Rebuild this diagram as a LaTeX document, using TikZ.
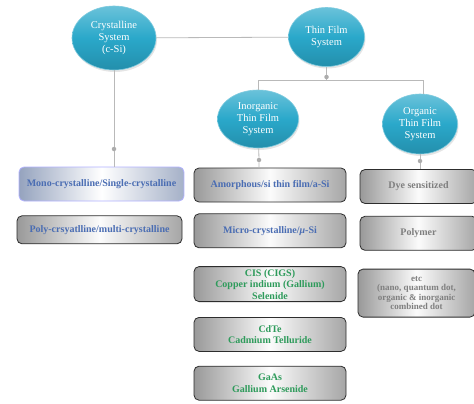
\documentclass[tikz,border=0pt]{standalone}
\usepackage{fontspec}
\setmainfont{Liberation Serif}
\usetikzlibrary{positioning,shapes.geometric,shadows}
\definecolor{bubble}{HTML}{2AA8CA}
\definecolor{sitxt}{HTML}{4A6DB3}
\definecolor{cmptxt}{HTML}{2E9B5B}
\definecolor{orgtxt}{HTML}{7F7F7F}
\definecolor{monoedge}{HTML}{95A3BE}

\begin{document}
\begin{tikzpicture}[x=1pt,y=1pt,node distance=14pt,
  sys/.style={ellipse,draw=bubble!60!white,line width=0.6pt,top color=bubble!70!white,bottom color=bubble!85!black,middle color=bubble,
    text=white,align=center,inner sep=0pt,font=\fontsize{10.5}{12}\selectfont,drop shadow={opacity=0.2,shadow xshift=1pt,shadow yshift=-2pt}},
  box/.style={draw=gray!35!black,line width=0.8pt,rounded corners=5pt,left color=gray!80,right color=gray!70,middle color=gray!3,
    align=center,inner sep=2pt,minimum width=152pt,minimum height=34pt,font=\bfseries\fontsize{10}{11.5}\selectfont},
  sibox/.style={box,text=sitxt},
  cmpbox/.style={box,text=cmptxt},
  orgbox/.style={box,text=orgtxt,minimum width=117pt},
  joint/.style={circle,fill=gray!65,inner sep=0pt,minimum size=4.5pt},
  link/.style={draw=gray!55,line width=0.8pt}]
\fill[white] (0,0) rectangle (474,-404);
\useasboundingbox (0,0) rectangle (474,-404);
\node[sys,minimum width=84pt,minimum height=64pt] (crys) at (114,-38) {Crystalline\\System\\(c-Si)};
\node[sys,minimum width=76pt,minimum height=59pt] (thin) at (326.5,-37) {Thin Film\\System};
\node[sys,minimum width=81pt,minimum height=58pt] (inorg) at (258,-119) {Inorganic\\Thin Film\\System};
\node[sys,minimum width=75pt,minimum height=60pt] (org) at (420,-124) {Organic\\Thin Film\\System};
\node[sibox,draw=blue!30!white,left color=monoedge,right color=monoedge!85,middle color=white,minimum width=165pt] (mono) at (101.5,-184) {Mono-crystalline/Single-crystalline};
\node[sibox,minimum width=165pt,minimum height=28pt,below=14pt of mono,xshift=-2pt] (poly) {Poly-crsyatlline/multi-crystalline};
\node[sibox] (amor) at (270,-185) {Amorphous/si thin film/a-Si};
\node[sibox,below=11pt of amor] (micro) {Micro-crystalline/\textit{μ}-Si};
\node[cmpbox,minimum height=35pt,below=18pt of micro] (cis) {CIS (CIGS)\\Copper indium (Gallium)\\Selenide};
\node[cmpbox,below=15pt of cis] (cdte) {CdTe\\Cadmium Telluride};
\node[cmpbox,below=14pt of cdte] (gaas) {GaAs\\Gallium Arsenide};
\node[orgbox] (dye) at (418.5,-186.5) {Dye sensitized};
\node[orgbox,below=12pt of dye] (polym) {Polymer};
\node[orgbox,minimum height=48pt,below=18pt of polym,xshift=-2pt,font=\bfseries\fontsize{9}{9.5}\selectfont] (etc) {etc\\(nano, quantum dot,\\organic \& inorganic\\combined dot};
\node[joint] (j0) at (114,-149) {};
\node[joint] (j1) at (326.5,-77) {};
\node[joint] (j2) at (259,-160) {};
\node[joint] (j3) at (420,-161) {};
\coordinate (fork) at (326.5,-80);
\draw[link] (crys) -- (thin);
\draw[link] (crys) -- (j0) -- (j0 |- mono.north);
\draw[link] (thin) -- (j1) -- (fork) -| (inorg);
\draw[link] (fork) -| ([xshift=3pt]org.north);
\draw[link] (inorg) -- (j2) -- (j2 |- amor.north);
\draw[link] (org) -- (j3) -- (j3 |- dye.north);
\end{tikzpicture}
\end{document}
